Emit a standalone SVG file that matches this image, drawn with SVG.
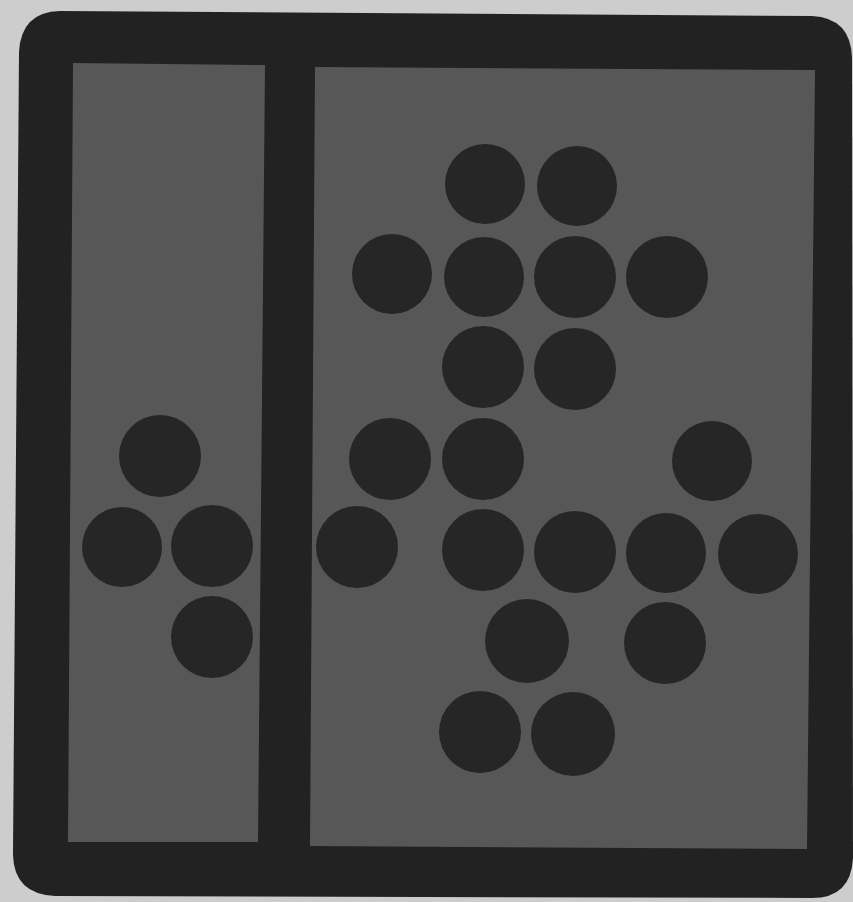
<svg xmlns="http://www.w3.org/2000/svg" width="853" height="902" viewBox="0 0 853 902">
<style>
.dot{fill:#262626}
.panel{fill:#575757}
</style>
<rect x="0" y="0" width="853" height="902" fill="#cdcdcd"/>
<path id="frame" d="M 60 11 L 812 16 Q 851 18 852 58 L 853 858 Q 851 898 812 898 L 55 896 Q 14 894 13 855 L 19 52 Q 21 12 60 11 Z" fill="#222222"/>
<polygon id="left-panel" class="panel" points="73,63 265,65 258,842 68,842"/>
<polygon id="right-panel" class="panel" points="315,67 815,70 807,849 310,846"/>
<g id="left-dots">
<circle class="dot" cx="160" cy="456" r="41"/>
<circle class="dot" cx="122" cy="547" r="40"/>
<circle class="dot" cx="212" cy="546" r="41"/>
<circle class="dot" cx="212" cy="637" r="41"/>
</g>
<g id="right-dots">
<circle class="dot" cx="485" cy="184" r="40"/>
<circle class="dot" cx="577" cy="186" r="40"/>
<circle class="dot" cx="392" cy="274" r="40"/>
<circle class="dot" cx="484" cy="277" r="40"/>
<circle class="dot" cx="575" cy="277" r="41"/>
<circle class="dot" cx="667" cy="277" r="41"/>
<circle class="dot" cx="483" cy="367" r="41"/>
<circle class="dot" cx="575" cy="369" r="41"/>
<circle class="dot" cx="390" cy="459" r="41"/>
<circle class="dot" cx="483" cy="459" r="41"/>
<circle class="dot" cx="712" cy="461" r="40"/>
<circle class="dot" cx="357" cy="547" r="41"/>
<circle class="dot" cx="483" cy="550" r="41"/>
<circle class="dot" cx="575" cy="552" r="41"/>
<circle class="dot" cx="666" cy="553" r="40"/>
<circle class="dot" cx="758" cy="554" r="40"/>
<circle class="dot" cx="527" cy="641" r="42"/>
<circle class="dot" cx="665" cy="643" r="41"/>
<circle class="dot" cx="480" cy="732" r="41"/>
<circle class="dot" cx="573" cy="734" r="42"/>
</g>
</svg>
